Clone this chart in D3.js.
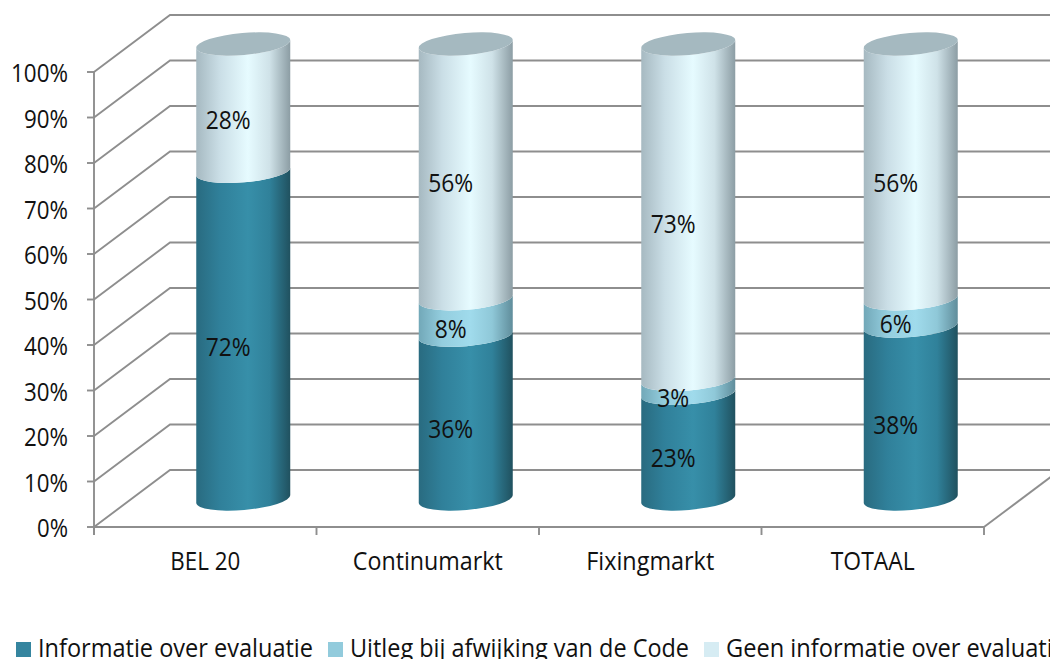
<!DOCTYPE html>
<html><head><meta charset="utf-8">
<script src="https://cdnjs.cloudflare.com/ajax/libs/d3/7.8.5/d3.min.js"></script>
<style>html,body{margin:0;padding:0;background:#fff;overflow:hidden}svg{display:block}
text{font-family:"Open Sans",sans-serif;fill:#111}</style></head><body><div id="c"></div>
<script>
const categories=["BEL 20","Continumarkt","Fixingmarkt","TOTAAL"];
const seriesNames=["Informatie over evaluatie","Uitleg bij afwijking van de Code","Geen informatie over evaluatie"];
const infoValues=[72,36,23,38];
const uitlegValues=[0,8,3,6];
const geenValues=[28,56,73,56];
const yTicks=[0,10,20,30,40,50,60,70,80,90,100];
const palette=[
 {key:"a",stops:["#296b80","#30809a","#378fa9","#30819a","#20515f"],swatch:"#35859f"},
 {key:"b",stops:["#72a8b8","#94cedf","#a0dbec","#8fc8d8","#608d9b"],swatch:"#92cbdc"},
 {key:"c",stops:["#a6b9c1","#cadee6","#e6fbff","#cfe2e8","#8c9da4"],swatch:"#d6ecf3"}];
const W=1050,H=659;
const svg=d3.select("#c").append("svg").attr("width",W).attr("height",H);
const rows=categories.map((c,i)=>({c,s0:infoValues[i],s1:uitlegValues[i],s2:geenValues[i]}));
const stacked=d3.stack().keys(["s0","s1","s2"]).offset(d3.stackOffsetExpand)(rows);
const rawSeries=[infoValues,uitlegValues,geenValues];
const y=d3.scaleLinear().domain([0,100]).range([527,72]);
const x=d3.scaleBand().domain(categories).range([94,984]);
const depthX=76,depthY=57;
const grid="#8e8e8e";
const defs=svg.append("defs");
palette.forEach(p=>{const g=defs.append("linearGradient").attr("id","g"+p.key).attr("x1",0).attr("x2",1).attr("y1",0).attr("y2",0);
 [0,.25,.55,.78,1].forEach((o,i)=>g.append("stop").attr("offset",o).attr("stop-color",p.stops[i]));});
const gg=svg.append("g").attr("fill","none").attr("stroke",grid).attr("stroke-width",1.9);
yTicks.forEach(t=>{const yy=y(t);
 gg.append("path").attr("d",`M94,${yy}L${94+depthX},${yy-depthY}L${W+20},${yy-depthY}`);
 gg.append("line").attr("x1",87).attr("x2",94).attr("y1",yy).attr("y2",yy);});
gg.append("line").attr("x1",94).attr("x2",94).attr("y1",y(100)).attr("y2",535);
gg.append("line").attr("x1",94).attr("x2",984).attr("y1",527).attr("y2",527);
gg.append("line").attr("x1",984).attr("x2",984+depthX).attr("y1",527).attr("y2",527-depthY);
[...categories.map(c=>x(c)),984].forEach(v=>gg.append("line").attr("x1",v).attr("x2",v).attr("y1",527).attr("y2",535));
svg.append("g").selectAll("text").data(yTicks).join("text").attr("x",68).attr("y",d=>y(d)+10)
 .attr("text-anchor","end").attr("font-size",25).attr("textLength",d=>d==100?57:d==0?31:44).attr("lengthAdjust","spacingAndGlyphs").text(d=>d+"%");
svg.append("g").selectAll("text").data(categories).join("text").attr("x",d=>x(d)+x.bandwidth()/2).attr("y",570)
 .attr("text-anchor","middle").attr("font-size",25).text(d=>d).attr("textLength",(d,i)=>[70,150,128,84][i]).attr("lengthAdjust","spacingAndGlyphs");
const bw=x.bandwidth(),cw=94,rise=4,ry=11;
const rx=Math.hypot(cw/2,rise),rot=-Math.atan2(rise,cw/2)*180/Math.PI;
const cylH=d3.scaleLinear().domain([0,1]).range([499,44]);
const labelY=d3.scaleLinear().domain([0,1]).range([511,56]);
const cx=c=>x(c)+bw/2+depthX/2;
const seg=(c,a,b)=>{const X=cx(c),L=X-cw/2,R=X+cw/2,ya=cylH(a),yb=cylH(b);
 return `M${L},${ya+rise}A${rx},${ry} ${rot} 0 0 ${R},${ya-rise}L${R},${yb-rise}A${rx},${ry} ${rot} 0 1 ${L},${yb+rise}Z`;};
stacked.forEach((s,si)=>{svg.append("g").selectAll("path").data(s.filter(d=>d[1]>d[0])).join("path")
 .attr("d",d=>seg(d.data.c,d[0],d[1])).attr("fill",`url(#g${palette[si].key})`);});
svg.append("g").selectAll("ellipse").data(categories).join("ellipse")
 .attr("cx",cx).attr("cy",cylH(1)).attr("rx",rx).attr("ry",ry)
 .attr("transform",c=>`rotate(${rot} ${cx(c)} ${cylH(1)})`).attr("fill","#a5b9c0");
stacked.forEach((s,si)=>{svg.append("g").selectAll("text").data(s.map((d,i)=>({d,i})).filter(o=>rawSeries[si][o.i]>0)).join("text")
 .attr("x",o=>x(o.d.data.c)+bw/2+23).attr("y",o=>labelY((o.d[0]+o.d[1])/2)+9)
 .attr("text-anchor","middle").attr("font-size",25).attr("textLength",o=>rawSeries[si][o.i]<10?32:45).attr("lengthAdjust","spacingAndGlyphs").text(o=>rawSeries[si][o.i]+"%");});
const legX=[16,328,704],legW=[275,339,340];
const lg=svg.append("g").selectAll("g").data(seriesNames).join("g");
lg.append("rect").attr("x",(d,i)=>legX[i]).attr("y",642).attr("width",15).attr("height",15).attr("fill",(d,i)=>palette[i].swatch);
lg.append("text").attr("x",(d,i)=>legX[i]+22).attr("y",657).attr("font-size",25).attr("textLength",(d,i)=>legW[i]).attr("lengthAdjust","spacingAndGlyphs").text(d=>d);
</script></body></html>
